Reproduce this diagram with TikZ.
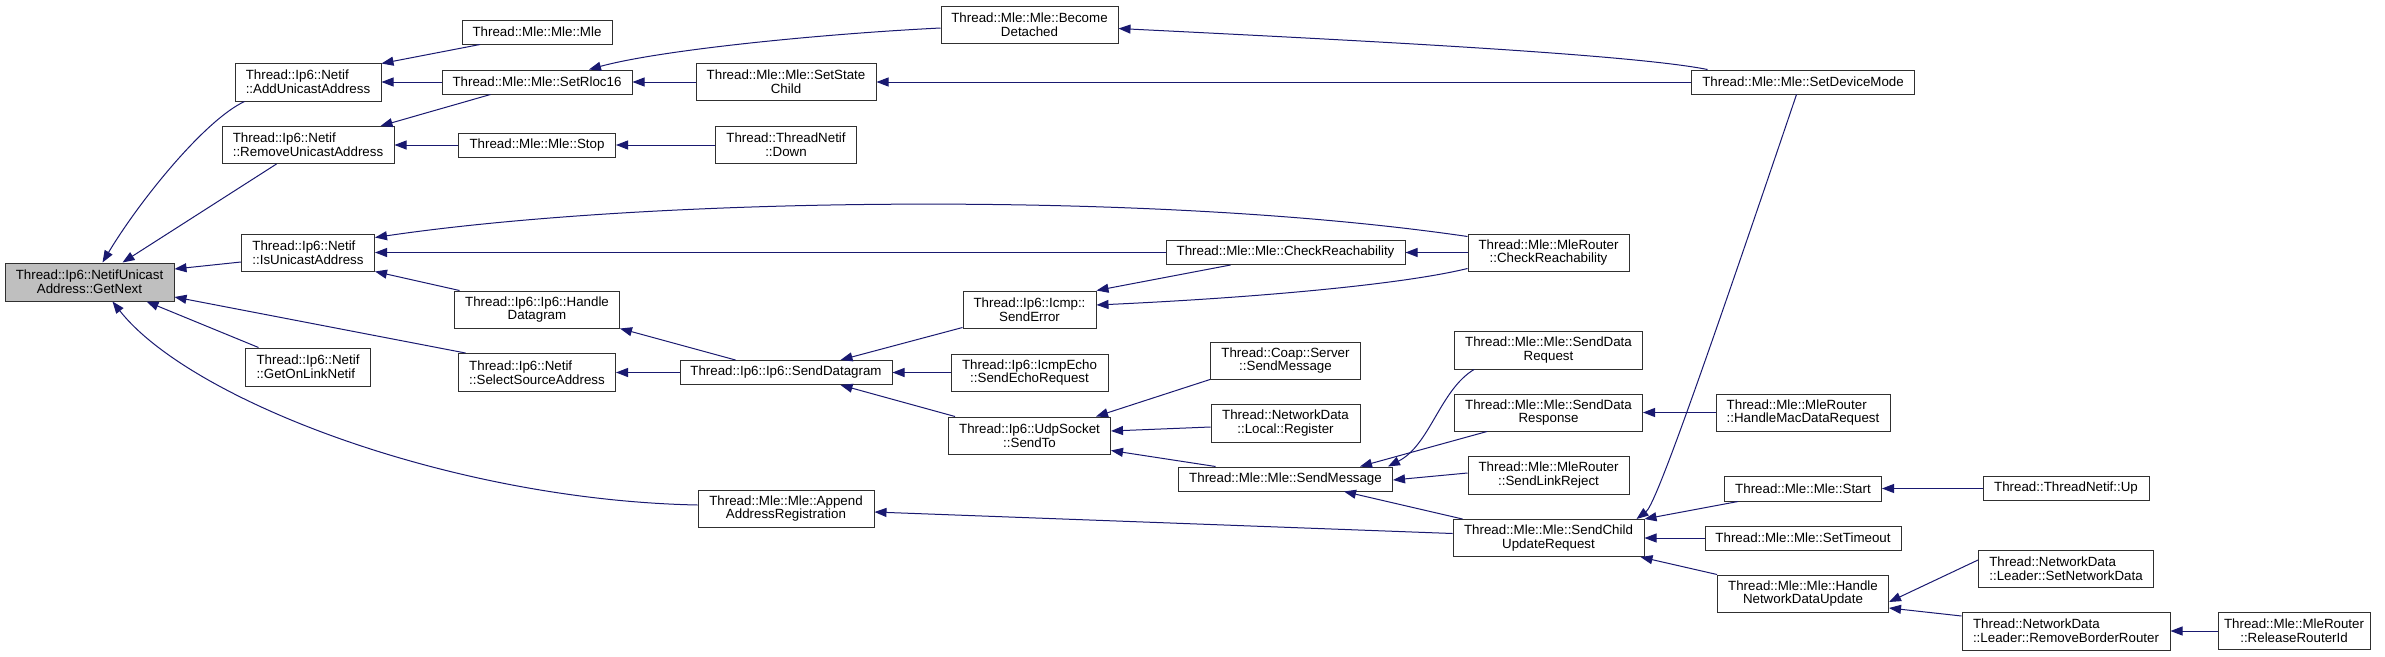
\documentclass[tikz,border=0pt]{standalone}
\usepackage{fontspec}
\setmainfont{Liberation Sans}
\usepackage{tikz}
\usetikzlibrary{arrows.meta}
\definecolor{callblue}{HTML}{191970}
\definecolor{rootgrey}{HTML}{BFBFBF}
\definecolor{boxline}{HTML}{303030}
\tikzset{
  fnbox/.style  = {draw=boxline, line width=1pt, fill=white, inner sep=0pt,
                   align=center, font=\fontsize{13.33pt}{13.6pt}\selectfont},
  fnleft/.style = {fnbox, align=left},
  fnroot/.style = {fnbox, fill=rootgrey},
  call/.style   = {draw=callblue, line width=1pt,
                   -{Triangle[length=12pt,width=9pt]}},
}

\begin{document}
\begin{tikzpicture}[x=1pt, y=-1pt]

    % ---------- page ---------------------------------------------------
    \fill[white] (0,0) rectangle (2385,656);
    \useasboundingbox (0,0) rectangle (2385,656);

    % ---------- rank 0 and 1 -------------------------------------------
    \node[fnroot, minimum width=169pt, minimum height=38pt] (gn) at (89.5,282)
      {Thread::Ip6::NetifUnicast\\Address::GetNext};
    \node[fnleft, minimum width=146pt, minimum height=38pt] (aua) at (308,82)
      {Thread::Ip6::Netif\\::AddUnicastAddress};
    \node[fnleft, minimum width=172pt, minimum height=37pt] (rua) at (308,145)
      {Thread::Ip6::Netif\\::RemoveUnicastAddress};
    \node[fnleft, minimum width=133pt, minimum height=37pt] (iua) at (308,252.5)
      {Thread::Ip6::Netif\\::IsUnicastAddress};
    \node[fnleft, minimum width=125pt, minimum height=38pt] (gol) at (308,367)
      {Thread::Ip6::Netif\\::GetOnLinkNetif};

    % ---------- rank 2 -------------------------------------------------
    \node[fnbox, minimum width=150pt, minimum height=24pt] (mm)   at (537,32)  {Thread::Mle::Mle::Mle};
    \node[fnbox, minimum width=190pt, minimum height=24pt] (rloc) at (537,82)  {Thread::Mle::Mle::SetRloc16};
    \node[fnbox, minimum width=157pt, minimum height=24pt] (stp)  at (537,145) {Thread::Mle::Mle::Stop};
    \node[fnbox, minimum width=165pt, minimum height=37pt] (hdg)  at (537,309.5)
      {Thread::Ip6::Ip6::Handle\\Datagram};
    \node[fnleft, minimum width=157pt, minimum height=38pt] (ssa) at (537,372.5)
      {Thread::Ip6::Netif\\::SelectSourceAddress};

    % ---------- rank 3 -------------------------------------------------
    \node[fnbox, minimum width=180pt, minimum height=37pt] (ssc) at (786,82)
      {Thread::Mle::Mle::SetState\\Child};
    \node[fnbox, minimum width=141pt, minimum height=37pt] (dwn) at (786,145)
      {Thread::ThreadNetif\\::Down};
    \node[fnbox, minimum width=212pt, minimum height=24pt] (sdg) at (786,372.5)
      {Thread::Ip6::Ip6::SendDatagram};
    \node[fnbox, minimum width=176pt, minimum height=37pt] (aar) at (786,508.5)
      {Thread::Mle::Mle::Append\\AddressRegistration};

    % ---------- rank 4 -------------------------------------------------
    \node[fnbox, minimum width=177pt, minimum height=37pt] (bdt) at (1029.5,24.5)
      {Thread::Mle::Mle::Become\\Detached};
    \node[fnbox, minimum width=133pt, minimum height=37pt] (ser) at (1029.5,309.5)
      {Thread::Ip6::Icmp::\\SendError};
    \node[fnbox, minimum width=157pt, minimum height=37pt] (seq) at (1029.5,372.5)
      {Thread::Ip6::IcmpEcho\\::SendEchoRequest};
    \node[fnbox, minimum width=162pt, minimum height=37pt] (sto) at (1029.5,435.5)
      {Thread::Ip6::UdpSocket\\::SendTo};

    % ---------- rank 5 -------------------------------------------------
    \node[fnbox, minimum width=239pt, minimum height=24pt] (mcr) at (1285.5,252.5)
      {Thread::Mle::Mle::CheckReachability};
    \node[fnbox, minimum width=150pt, minimum height=37pt] (csm) at (1285.5,360.5)
      {Thread::Coap::Server\\::SendMessage};
    \node[fnbox, minimum width=149pt, minimum height=38pt] (lrg) at (1285.5,423)
      {Thread::NetworkData\\::Local::Register};
    \node[fnbox, minimum width=214pt, minimum height=24pt] (msm) at (1285.5,479)
      {Thread::Mle::Mle::SendMessage};

    % ---------- rank 6 -------------------------------------------------
    \node[fnbox, minimum width=161pt, minimum height=37pt] (rcr) at (1548.5,252.5)
      {Thread::Mle::MleRouter\\::CheckReachability};
    \node[fnbox, minimum width=188pt, minimum height=38pt] (sdq) at (1548.5,350)
      {Thread::Mle::Mle::SendData\\Request};
    \node[fnbox, minimum width=188pt, minimum height=37pt] (sdr) at (1548.5,412.5)
      {Thread::Mle::Mle::SendData\\Response};
    \node[fnbox, minimum width=161pt, minimum height=38pt] (slr) at (1548.5,475)
      {Thread::Mle::MleRouter\\::SendLinkReject};
    \node[fnbox, minimum width=191pt, minimum height=37pt] (scu) at (1548.5,538)
      {Thread::Mle::Mle::SendChild\\UpdateRequest};

    % ---------- rank 7 -------------------------------------------------
    \node[fnbox, minimum width=223pt, minimum height=24pt] (sdm) at (1803,82)
      {Thread::Mle::Mle::SetDeviceMode};
    \node[fnleft, minimum width=174pt, minimum height=37pt] (hmd) at (1803,412.5)
      {Thread::Mle::MleRouter\\::HandleMacDataRequest};
    \node[fnbox, minimum width=157pt, minimum height=25pt] (mst) at (1803,488.5)
      {Thread::Mle::Mle::Start};
    \node[fnbox, minimum width=196pt, minimum height=24pt] (stm) at (1803,538)
      {Thread::Mle::Mle::SetTimeout};
    \node[fnbox, minimum width=171pt, minimum height=37pt] (hnd) at (1803,593.5)
      {Thread::Mle::Mle::Handle\\NetworkDataUpdate};

    % ---------- rank 8 and 9 -------------------------------------------
    \node[fnbox, minimum width=166pt, minimum height=24pt] (nup) at (2066,488.5)
      {Thread::ThreadNetif::Up};
    \node[fnleft, minimum width=175pt, minimum height=37pt] (snd) at (2066,568.5)
      {Thread::NetworkData\\::Leader::SetNetworkData};
    \node[fnleft, minimum width=208pt, minimum height=38pt] (rbr) at (2066,631)
      {Thread::NetworkData\\::Leader::RemoveBorderRouter};
    \node[fnbox, minimum width=152pt, minimum height=37pt] (rri) at (2294,631)
      {Thread::Mle::MleRouter\\::ReleaseRouterId};

    % ---------- straight calls, same row -------------------------------
    \foreach \src/\dst in {rloc/aua, stp/rua, ssc/rloc, dwn/stp, sdm/ssc,
                           mcr/iua, rcr/mcr, sdg/ssa, seq/sdg, hmd/sdr,
                           stm/scu, nup/mst, rri/rbr}
      {\draw[call] (\src.west) -- (\dst.east);}

    % ---------- calls into GetNext -------------------------------------
    \draw[call] ([xshift=10pt]aua.south west)
      .. controls (205,120) and (140,200) .. ([xshift=98pt]gn.north west);
    \draw[call] ([xshift=55pt]rua.south west) -- ([xshift=118pt]gn.north west);
    \draw[call] ([yshift=-9.5pt]iua.west) -- ([yshift=13pt]gn.east);
    \draw[call] ([xshift=7.5pt]ssa.north west) -- ([yshift=-15pt]gn.east);
    \draw[call] ([xshift=13.5pt]gol.north west) -- ([xshift=142pt]gn.south west);
    \draw[call] ([yshift=3.5pt]aar.west)
      .. controls (450,500) and (190,400) .. ([xshift=108pt]gn.south west);

    % ---------- upper rows ---------------------------------------------
    \draw[call] ([xshift=18.5pt]mm.south west) -- ([yshift=-1pt]aua.north east);
    \draw[call] ([xshift=49pt]rloc.south west) -- ([xshift=-14pt]rua.north east);
    \draw[call] ([yshift=-3.5pt]bdt.west)
      .. controls (820,34) and (660,50) .. ([xshift=52pt]rloc.north);
    \draw[call] ([xshift=16.5pt]sdm.north west)
      .. controls (1630,54) and (1350,40) .. ([yshift=-4pt]bdt.east);
    \draw[call] ([yshift=-3pt]rcr.north west)
      .. controls (1150,190) and (650,197) .. ([yshift=-4pt]iua.north east);

    % ---------- datagram path ------------------------------------------
    \draw[call] ([xshift=5.5pt]hdg.north west) -- (iua.south east);
    \draw[call] ([xshift=56pt]sdg.north west) -- (hdg.south east);
    \draw[call] ([yshift=1pt]ser.south west) -- ([xshift=161pt]sdg.north west);
    \draw[call] ([xshift=7pt]sto.north west) -- ([xshift=161pt]sdg.south west);
    \draw[call] ([xshift=65pt]mcr.south west) -- (ser.north east);
    \draw[call] ([yshift=3pt]rcr.south west)
      .. controls (1400,285) and (1250,298) .. ([yshift=4.5pt]ser.east);
    \draw[call] (csm.south west) -- ([xshift=-15pt]sto.north east);
    \draw[call] ([yshift=-4pt]lrg.west) -- ([yshift=4.5pt]sto.east);
    \draw[call] ([xshift=37.5pt]msm.north west) -- ([yshift=4pt]sto.south east);

    % ---------- mle messages -------------------------------------------
    \draw[call] ([xshift=20pt]sdq.south west)
      .. controls (1440,390) and (1430,445) .. ([xshift=-5pt]msm.north east);
    \draw[call] ([xshift=33pt]sdr.south west) -- ([xshift=-33pt]msm.north east);
    \draw[call] ([yshift=2pt]slr.west) -- ([yshift=-1pt]msm.east);
    \draw[call] ([xshift=10pt]scu.north west) -- ([xshift=-49pt]msm.south east);
    \draw[call] ([yshift=4.5pt]scu.west) -- ([yshift=-3.5pt]aar.east);
    \draw[call] ([xshift=105.5pt]sdm.south west)
      .. controls (1695,394) and (1655,505) .. ([xshift=-8pt]scu.north east);
    \draw[call] ([xshift=14pt]mst.south west) -- (scu.north east);
    \draw[call] (hnd.north west) -- ([xshift=-4pt]scu.south east);
    \draw[call] ([yshift=8.5pt]snd.west) -- ([yshift=-8.5pt]hnd.east);
    \draw[call] ([yshift=15pt]rbr.west) -- ([yshift=-14.5pt]hnd.east);

  \end{tikzpicture}
\end{document}
